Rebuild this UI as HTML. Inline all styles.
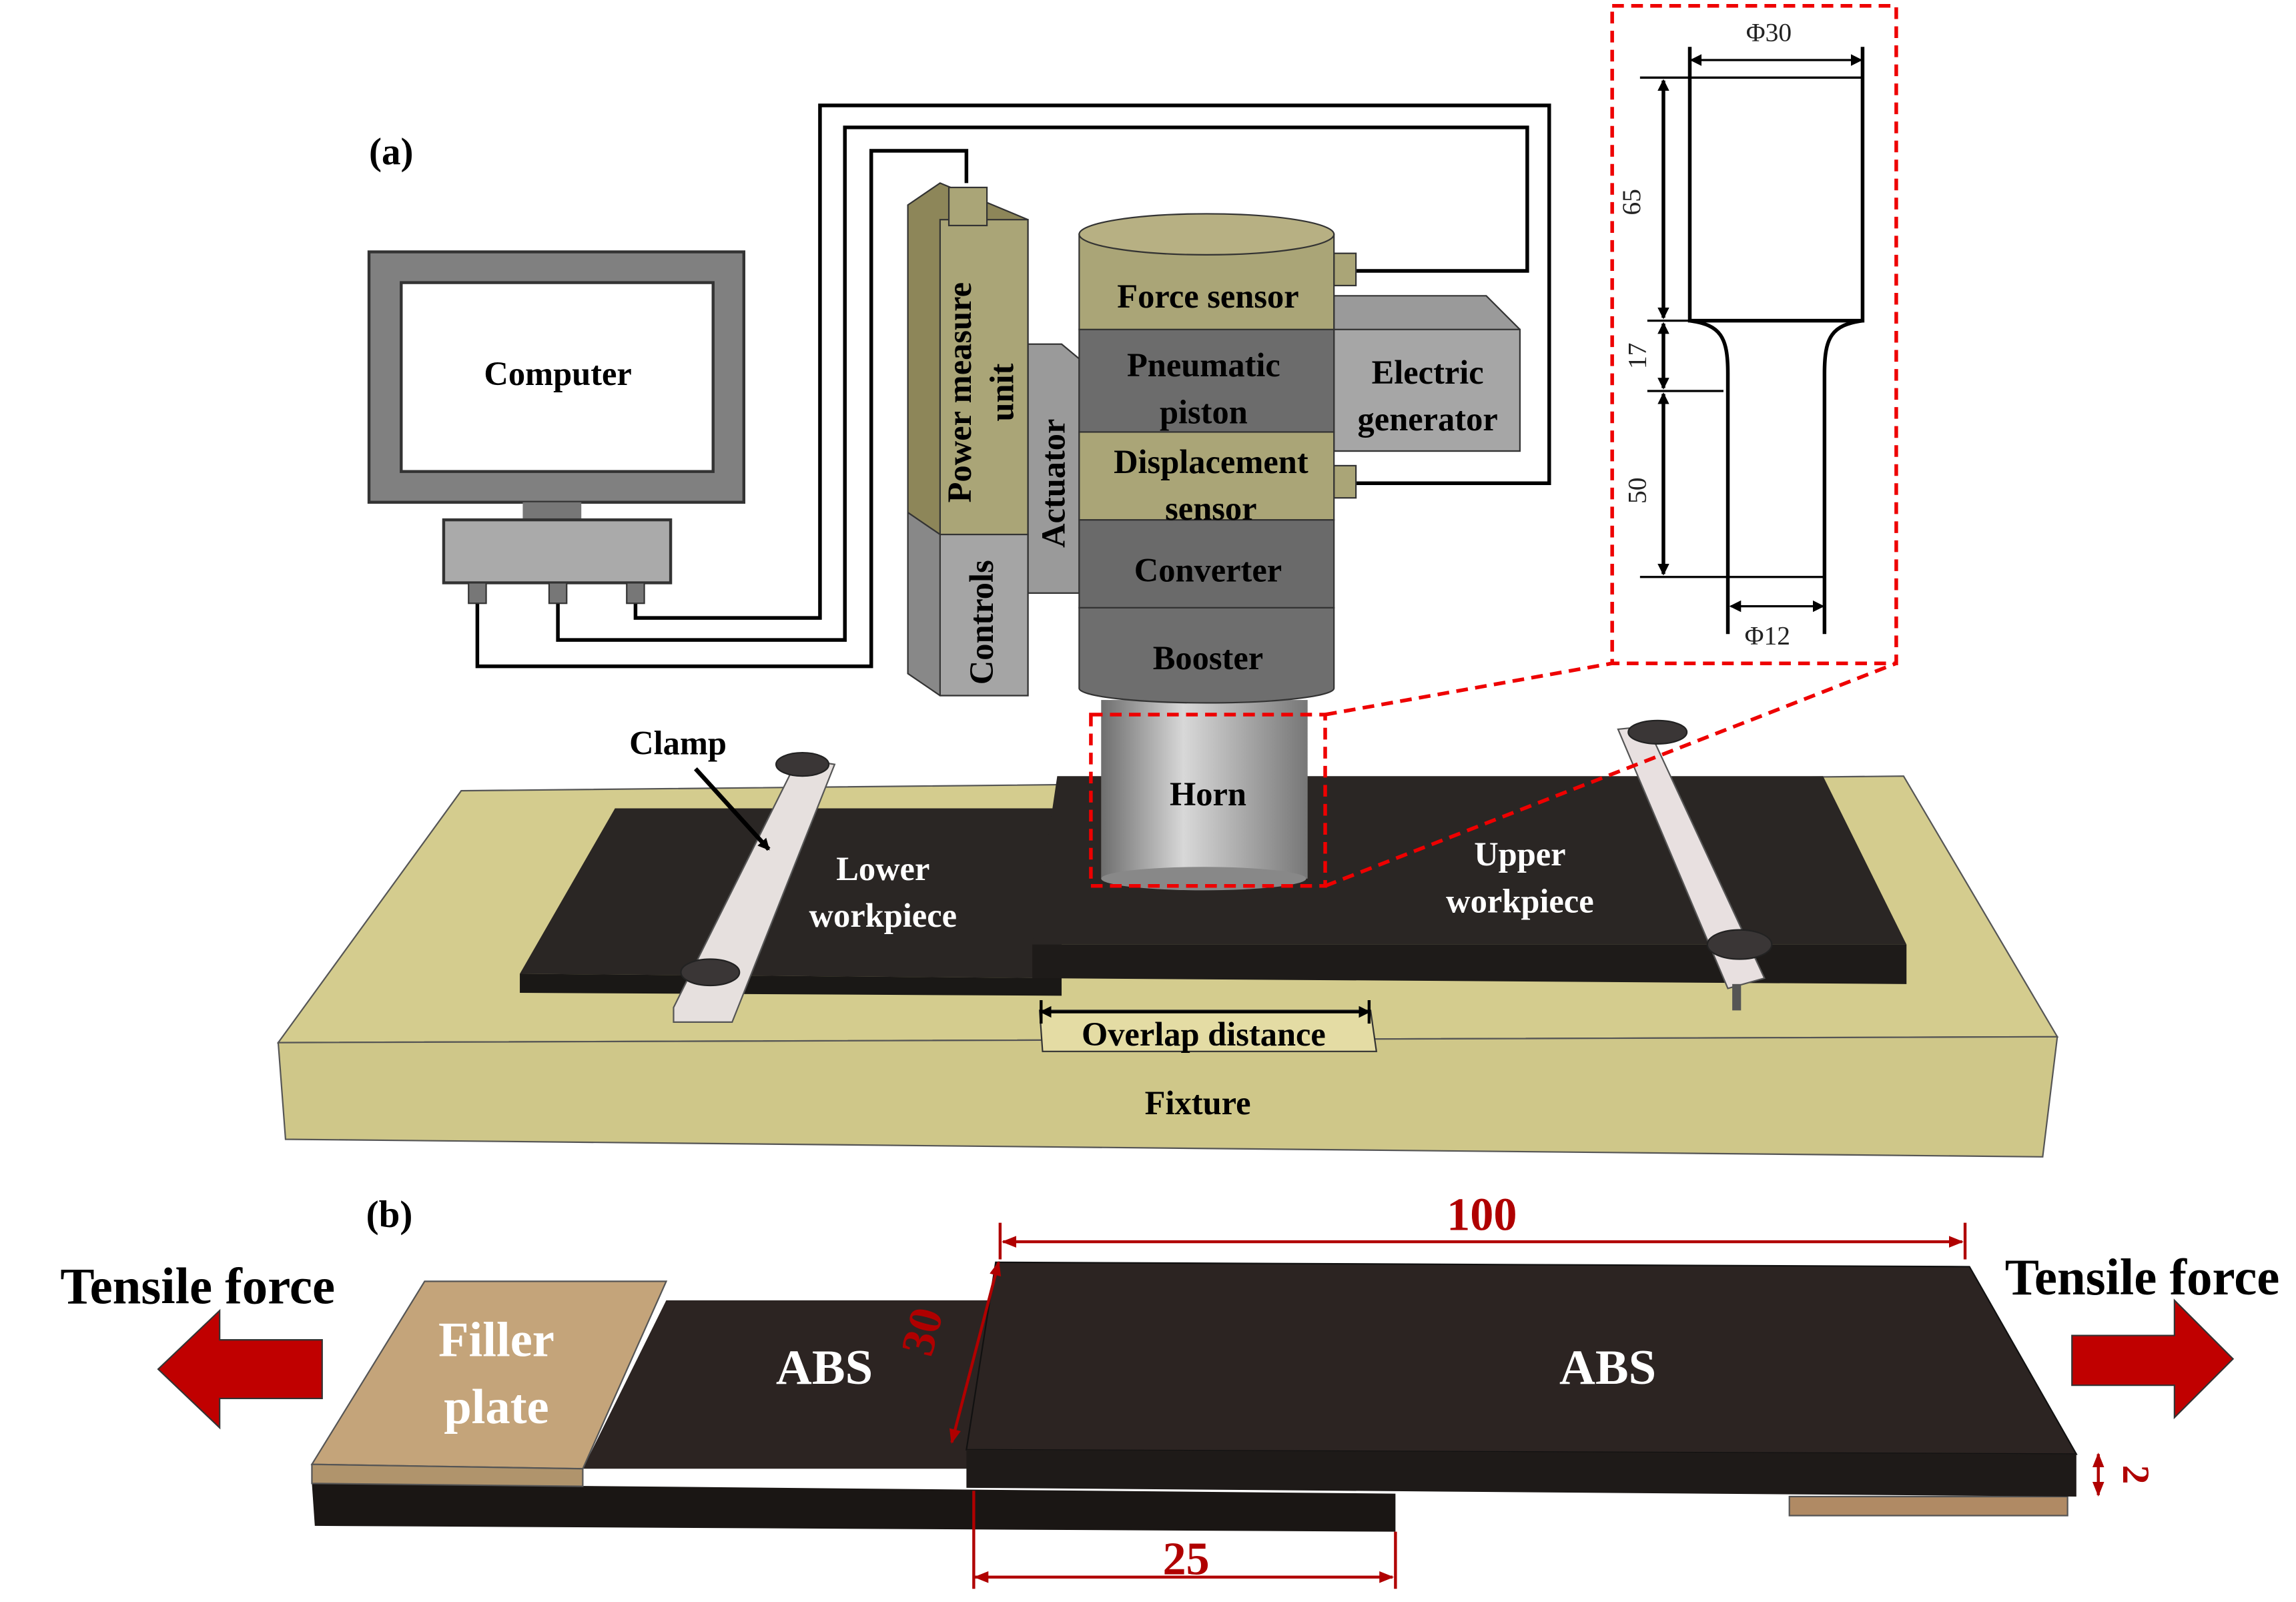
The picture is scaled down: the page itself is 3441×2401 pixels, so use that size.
<!DOCTYPE html>
<html><head><meta charset="utf-8"><style>html,body{margin:0;padding:0;background:#fff}svg{display:block}</style></head>
<body>
<svg width="3441" height="2401" viewBox="0 0 1568 1094" preserveAspectRatio="none" xmlns="http://www.w3.org/2000/svg" font-family="Liberation Serif, serif" font-weight="bold">
<defs>
<marker id="ab" markerWidth="8" markerHeight="8" refX="7" refY="4" orient="auto-start-reverse" markerUnits="userSpaceOnUse"><path d="M0,0 L8,4 L0,8 z" fill="#000"/></marker>
<marker id="ar" markerWidth="10" markerHeight="10" refX="9" refY="5" orient="auto-start-reverse" markerUnits="userSpaceOnUse"><path d="M0,1 L10,5 L0,9 z" fill="#b00000"/></marker>
<linearGradient id="hg" x1="0" x2="1"><stop offset="0" stop-color="#6e6e6e"/><stop offset="0.4" stop-color="#d8d8d8"/><stop offset="1" stop-color="#777"/></linearGradient>
</defs>
<text x="252" y="112" font-size="26">(a)</text>
<g fill="none" stroke="#000" stroke-width="2.5">
<path d="M326,410 V455 H595 V103 H660 V125"/>
<path d="M381,410 V437 H577 V87 H1043 V185 H925"/>
<path d="M434,410 V422 H560 V72 H1058 V330 H925"/>
</g>
<rect x="252" y="172" width="256" height="171" fill="#808080" stroke="#333" stroke-width="2"/>
<rect x="274" y="193" width="213" height="129" fill="#fff" stroke="#333" stroke-width="2"/>
<text x="381" y="263" font-size="23" text-anchor="middle">Computer</text>
<rect x="357" y="343" width="40" height="12" fill="#777"/>
<rect x="303" y="355" width="155" height="43" fill="#aaa" stroke="#333" stroke-width="2"/>
<rect x="320" y="398" width="12" height="14" fill="#777" stroke="#333"/><rect x="375" y="398" width="12" height="14" fill="#777" stroke="#333"/><rect x="428" y="398" width="12" height="14" fill="#777" stroke="#333"/>
<polygon points="190,712 315,540 1300,530 1405,708" fill="#d4cc8e" stroke="#555"/>
<polygon points="190,712 1405,708 1395,790 195,778" fill="#cfc789" stroke="#555"/>
<polygon points="710,690 936,690 940,718 712,718" fill="#e4dca4" stroke="#333"/>
<text x="818" y="761" font-size="23" text-anchor="middle">Fixture</text>
<polygon points="355,665 420,552 725,552 725,668" fill="#2a2624"/>
<polygon points="355,665 725,668 725,680 355,678" fill="#1a1816"/>
<text x="603" y="601" font-size="23" fill="#fff" text-anchor="middle">Lower</text>
<text x="603" y="633" font-size="23" fill="#fff" text-anchor="middle">workpiece</text>
<polygon points="705,645 722,530 1245,530 1302,645" fill="#2a2624"/>
<polygon points="705,645 1302,645 1302,672 705,668" fill="#1e1b19"/>
<text x="1038" y="591" font-size="23" fill="#fff" text-anchor="middle">Upper</text>
<text x="1038" y="623" font-size="23" fill="#fff" text-anchor="middle">workpiece</text>
<line x1="711" y1="691" x2="935" y2="691" stroke="#000" stroke-width="2" marker-start="url(#ab)" marker-end="url(#ab)"/>
<line x1="711" y1="683" x2="711" y2="699" stroke="#000" stroke-width="2"/><line x1="935" y1="683" x2="935" y2="699" stroke="#000" stroke-width="2"/>
<text x="822" y="714" font-size="23" text-anchor="middle">Overlap distance</text>
<polygon points="460,688 545,518 570,522 500,698 460,698" fill="#e6e0de" stroke="#555"/>
<ellipse cx="548" cy="522" rx="18" ry="8" fill="#3a3636" stroke="#222"/>
<ellipse cx="485" cy="664" rx="20" ry="9" fill="#3a3636" stroke="#222"/>
<polygon points="1105,498 1125,496 1205,668 1180,675" fill="#e8e0e0" stroke="#555"/>
<ellipse cx="1132" cy="500" rx="20" ry="8" fill="#3a3636" stroke="#222"/>
<ellipse cx="1188" cy="645" rx="22" ry="10" fill="#3a3636" stroke="#222"/>
<rect x="1183" y="672" width="6" height="18" fill="#555"/>
<text x="463" y="515" font-size="23" text-anchor="middle">Clamp</text>
<line x1="475" y1="525" x2="525" y2="580" stroke="#000" stroke-width="3" marker-end="url(#ab)"/>
<rect x="752" y="478" width="141" height="122" fill="url(#hg)"/>
<ellipse cx="822" cy="600" rx="70" ry="8" fill="#888"/>
<text x="825" y="550" font-size="23" text-anchor="middle">Horn</text>
<polygon points="702,235 725,235 737,245 737,405 702,405" fill="#9a9a9a" stroke="#333"/>
<text x="727" y="330" font-size="23" text-anchor="middle" transform="rotate(-90 727 330)">Actuator</text>
<polygon points="620,140 642,125 702,150 702,365 642,365 620,350" fill="#8d8659" stroke="#333"/>
<rect x="642" y="150" width="60" height="215" fill="#aaa577" stroke="#333"/>
<polygon points="620,350 642,365 702,365 702,475 642,475 620,460" fill="#888" stroke="#333"/>
<rect x="642" y="365" width="60" height="110" fill="#a5a5a5" stroke="#333"/>
<rect x="648" y="128" width="26" height="26" fill="#aaa577" stroke="#333"/>
<text x="663" y="268" font-size="23" text-anchor="middle" transform="rotate(-90 663 268)">Power measure</text>
<text x="692" y="268" font-size="23" text-anchor="middle" transform="rotate(-90 692 268)">unit</text>
<text x="678" y="425" font-size="23" text-anchor="middle" transform="rotate(-90 678 425)">Controls</text>
<polygon points="911,202 1015,202 1038,225 1038,308 911,308" fill="#9a9a9a" stroke="#333"/>
<rect x="911" y="225" width="127" height="83" fill="#a6a6a6" stroke="#333"/>
<text x="975" y="262" font-size="23" text-anchor="middle">Electric</text>
<text x="975" y="294" font-size="23" text-anchor="middle">generator</text>
<rect x="911" y="173" width="15" height="22" fill="#aaa577" stroke="#333"/>
<rect x="911" y="318" width="15" height="22" fill="#aaa577" stroke="#333"/>
<path d="M737,415 V470 A87,10 0 0 0 911,470 V415 Z" fill="#6e6e6e" stroke="#333"/>
<rect x="737" y="355" width="174" height="60" fill="#6a6a6a" stroke="#333"/>
<rect x="737" y="295" width="174" height="60" fill="#aaa577" stroke="#333"/>
<rect x="737" y="225" width="174" height="70" fill="#6c6c6c" stroke="#333"/>
<rect x="737" y="160" width="174" height="65" fill="#aaa577" stroke="#333"/>
<ellipse cx="824" cy="160" rx="87" ry="14" fill="#b7b083" stroke="#333"/>
<text x="825" y="210" font-size="23" text-anchor="middle">Force sensor</text>
<text x="822" y="257" font-size="23" text-anchor="middle">Pneumatic</text>
<text x="822" y="289" font-size="23" text-anchor="middle">piston</text>
<text x="827" y="323" font-size="23" text-anchor="middle">Displacement</text>
<text x="827" y="355" font-size="23" text-anchor="middle">sensor</text>
<text x="825" y="397" font-size="23" text-anchor="middle">Converter</text>
<text x="825" y="457" font-size="23" text-anchor="middle">Booster</text>
<g fill="none" stroke="#e00" stroke-width="2.5" stroke-dasharray="8,5">
<rect x="745" y="488" width="160" height="117"/>
<rect x="1101" y="4" width="194" height="449"/>
<line x1="905" y1="488" x2="1101" y2="453"/>
<line x1="905" y1="605" x2="1295" y2="453"/>
</g>
<g fill="none" stroke="#000" stroke-width="2.5">
<path d="M1154,32 V219 H1272 V32"/>
<path d="M1154,219 C1175,222 1180,230 1180,255 V433"/>
<path d="M1272,219 C1251,222 1246,230 1246,255 V433"/>
</g>
<g stroke="#000" stroke-width="1.5" fill="none">
<line x1="1155" y1="41" x2="1271" y2="41" marker-start="url(#ab)" marker-end="url(#ab)"/>
<line x1="1120" y1="53" x2="1272" y2="53"/>
<line x1="1125" y1="219" x2="1154" y2="219"/>
<line x1="1125" y1="267" x2="1177" y2="267"/>
<line x1="1120" y1="394" x2="1246" y2="394"/>
</g>
<g stroke="#000" stroke-width="2.5">
<line x1="1136" y1="55" x2="1136" y2="217" marker-start="url(#ab)" marker-end="url(#ab)"/>
<line x1="1136" y1="221" x2="1136" y2="265" marker-start="url(#ab)" marker-end="url(#ab)"/>
<line x1="1136" y1="269" x2="1136" y2="392" marker-start="url(#ab)" marker-end="url(#ab)"/>
<line x1="1182" y1="414" x2="1245" y2="414" stroke-width="1.5" marker-start="url(#ab)" marker-end="url(#ab)"/>
</g>
<g font-weight="normal" font-size="18" fill="#222">
<text x="1208" y="28" text-anchor="middle">Φ30</text>
<text x="1207" y="440" text-anchor="middle">Φ12</text>
<text x="1120" y="138" text-anchor="middle" transform="rotate(-90 1120 138)">65</text>
<text x="1124" y="243" text-anchor="middle" transform="rotate(-90 1124 243)">17</text>
<text x="1124" y="335" text-anchor="middle" transform="rotate(-90 1124 335)">50</text>
</g>
<text x="250" y="838" font-size="26">(b)</text>
<polygon points="213,1013 953,1020 953,1046 215,1042" fill="#1a1614"/>
<polygon points="398,1003 455,888 680,888 660,1003" fill="#2c2422"/>
<polygon points="213,1000 290,875 455,875 398,1003" fill="#c4a47a" stroke="#555"/>
<polygon points="213,1000 398,1003 398,1015 213,1013" fill="#b0946c" stroke="#555"/>
<polygon points="1222,1022 1412,1022 1412,1035 1222,1035" fill="#b08a64" stroke="#555"/>
<polygon points="660,990 680,862 1345,865 1418,993" fill="#2c2422" stroke="#111"/>
<polygon points="660,990 1418,993 1418,1022 660,1016" fill="#1e1a18"/>
<text x="339" y="926" font-size="34" fill="#fff" text-anchor="middle">Filler</text>
<text x="339" y="972" font-size="34" fill="#fff" text-anchor="middle">plate</text>
<text x="563" y="945" font-size="34" fill="#fff" text-anchor="middle">ABS</text>
<text x="1098" y="945" font-size="34" fill="#fff" text-anchor="middle">ABS</text>
<text x="135" y="890" font-size="35" text-anchor="middle">Tensile force</text>
<text x="1463" y="884" font-size="35" text-anchor="middle">Tensile force</text>
<polygon points="108,935 150,895 150,915 220,915 220,955 150,955 150,975" fill="#c00000" stroke="#333"/>
<polygon points="1525,928 1485,888 1485,912 1415,912 1415,946 1485,946 1485,968" fill="#c00000" stroke="#333"/>
<g stroke="#b00000" stroke-width="2" fill="none">
<line x1="685" y1="848" x2="1340" y2="848" marker-start="url(#ar)" marker-end="url(#ar)"/>
<line x1="683" y1="835" x2="683" y2="860"/><line x1="1342" y1="835" x2="1342" y2="860"/>
<line x1="682" y1="862" x2="650" y2="985" marker-start="url(#ar)" marker-end="url(#ar)"/>
<line x1="666" y1="1077" x2="951" y2="1077" marker-start="url(#ar)" marker-end="url(#ar)"/>
<line x1="665" y1="1018" x2="665" y2="1085"/><line x1="953" y1="1046" x2="953" y2="1085"/>
<line x1="1433" y1="993" x2="1433" y2="1021" marker-start="url(#ar)" marker-end="url(#ar)"/>
</g>
<g fill="#b00000" font-size="32">
<text x="1012" y="840" text-anchor="middle">100</text>
<text x="810" y="1075" text-anchor="middle">25</text>
<text x="640" y="912" text-anchor="middle" transform="rotate(-75 640 912)">30</text>
<text x="1450" y="1007" text-anchor="middle" font-size="26" transform="rotate(90 1450 1007)">2</text>
</g>
</svg>
</body></html>
